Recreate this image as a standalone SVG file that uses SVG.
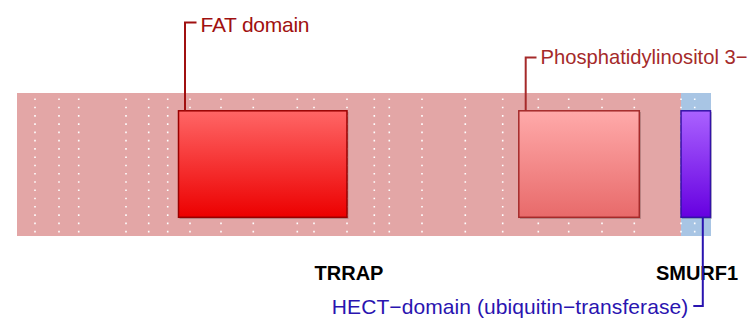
<svg xmlns="http://www.w3.org/2000/svg" width="752" height="326" viewBox="0 0 752 326">
<style>
.dots line{stroke:#ffffff;stroke-width:1.6;stroke-dasharray:1.6 6.67}
.lbl{font-family:"Liberation Sans",Arial,sans-serif;font-size:21px}
.gene{font-family:"Liberation Sans",Arial,sans-serif;font-size:20px;font-weight:bold;fill:#000;text-anchor:middle}
.shadow{fill:#000;fill-opacity:0.18}
.conn{fill:none;stroke-width:2}
</style>
<defs>
<linearGradient id="gFat" x1="0" y1="0" x2="0" y2="1"><stop offset="0" stop-color="#FF6666"/><stop offset="1" stop-color="#EC0000"/></linearGradient>
<linearGradient id="gPi3" x1="0" y1="0" x2="0" y2="1"><stop offset="0" stop-color="#FFAAAA"/><stop offset="1" stop-color="#E86A6A"/></linearGradient>
<linearGradient id="gHect" x1="0" y1="0" x2="0" y2="1"><stop offset="0" stop-color="#AA62FF"/><stop offset="1" stop-color="#6600E0"/></linearGradient>
</defs>
<g id="TRRAP">
<rect x="17" y="93" width="664" height="143" fill="#E3A6A6"/>
<text class="gene" x="349" y="280">TRRAP</text>
</g>
<g id="SMURF1">
<rect x="681" y="93" width="30" height="143" fill="#A8C5E4"/>
<text class="gene" x="697" y="280">SMURF1</text>
</g>
<g class="dots">
<line x1="35" y1="98.5" x2="35" y2="233"/>
<line x1="59" y1="98.5" x2="59" y2="233"/>
<line x1="78.7" y1="98.5" x2="78.7" y2="233"/>
<line x1="126" y1="98.5" x2="126" y2="233"/>
<line x1="148.7" y1="98.5" x2="148.7" y2="233"/>
<line x1="167.7" y1="98.5" x2="167.7" y2="233"/>
<line x1="190" y1="98.5" x2="190" y2="233"/>
<line x1="221" y1="98.5" x2="221" y2="233"/>
<line x1="253.3" y1="98.5" x2="253.3" y2="233"/>
<line x1="297.3" y1="98.5" x2="297.3" y2="233"/>
<line x1="314" y1="98.5" x2="314" y2="233"/>
<line x1="347" y1="98.5" x2="347" y2="233"/>
<line x1="374.3" y1="98.5" x2="374.3" y2="233"/>
<line x1="389.3" y1="98.5" x2="389.3" y2="233"/>
<line x1="422" y1="98.5" x2="422" y2="233"/>
<line x1="465.3" y1="98.5" x2="465.3" y2="233"/>
<line x1="502.7" y1="98.5" x2="502.7" y2="233"/>
<line x1="538.3" y1="98.5" x2="538.3" y2="233"/>
<line x1="568.7" y1="98.5" x2="568.7" y2="233"/>
<line x1="602" y1="98.5" x2="602" y2="233"/>
<line x1="634.3" y1="98.5" x2="634.3" y2="233"/>
<line x1="681" y1="98.5" x2="681" y2="233"/>
<line x1="694.7" y1="98.5" x2="694.7" y2="233"/>
</g>
<g id="FAT_domain">
<rect class="shadow" x="179.5" y="112" width="169" height="107"/>
<rect x="178.5" y="110.8" width="168.5" height="106.5" fill="url(#gFat)" stroke="#990000" stroke-width="1.5"/>
<text class="lbl" x="200.5" y="31.5" fill="#A01010" textLength="109">FAT domain</text>
</g>
<g id="PI3K_domain">
<rect class="shadow" x="520" y="112" width="121" height="107"/>
<rect x="518.8" y="110.8" width="120.5" height="106.5" fill="url(#gPi3)" stroke="#A52A2A" stroke-width="1.5"/>
<text class="lbl" x="540.5" y="64" fill="#A52A2A" style="font-size:20.2px">Phosphatidylinositol 3−</text>
</g>
<g id="HECT_domain">
<rect class="shadow" x="682" y="112" width="30" height="107"/>
<rect x="681" y="110.8" width="29.5" height="106.5" fill="url(#gHect)" stroke="#3312A8" stroke-width="1.5"/>
<text class="lbl" x="331.8" y="313.5" fill="#2A14B0" textLength="356.5">HECT−domain (ubiquitin−transferase)</text>
</g>
<g id="connectors">
<polyline class="conn" stroke="#A01010" points="185,110.5 185,22.5 196.5,22.5"/>
<polyline class="conn" stroke="#A52A2A" points="525.7,110.5 525.7,57.5 536.5,57.5"/>
<polyline class="conn" stroke="#2A14B0" points="702.8,217.5 702.8,306 693.3,306"/>
</g>
</svg>
